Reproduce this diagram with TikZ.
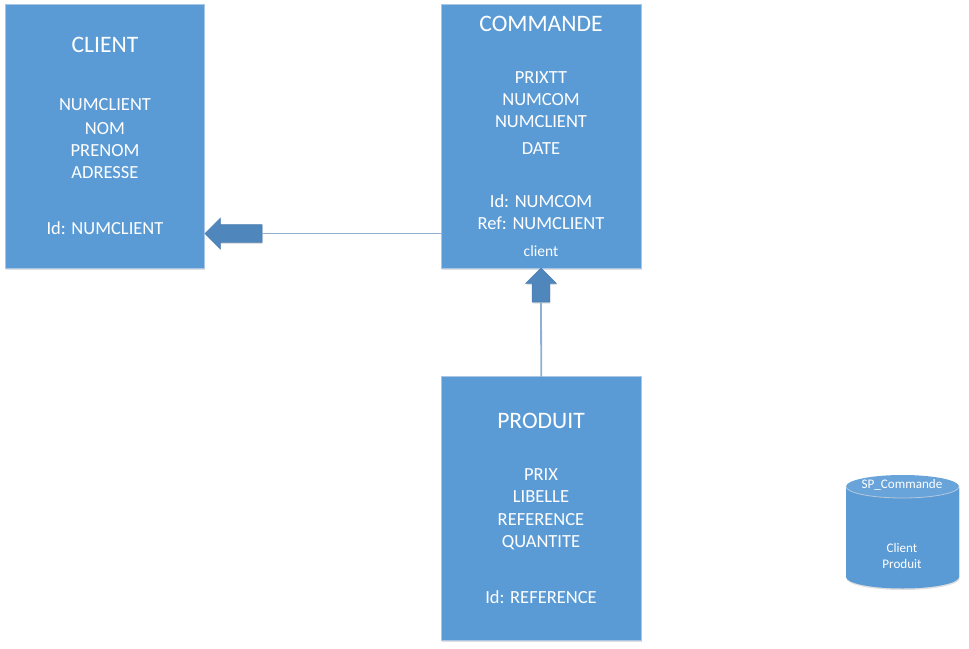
\documentclass[tikz,border=0pt]{standalone}
\usepackage{fontspec}
\setmainfont{Carlito}
\usetikzlibrary{shapes.arrows,shadows}
\definecolor{boxblue}{HTML}{5B9BD5}
\definecolor{boxedge}{HTML}{A9C6E4}
\definecolor{linkblue}{HTML}{8FB0D0}
\definecolor{arrowblue}{HTML}{4F86BC}
\definecolor{arrowedge}{HTML}{4A7FB3}
\definecolor{cylhead}{HTML}{68A3D9}
\definecolor{cylrim}{HTML}{B4C8DC}
\tikzset{
  softshadow/.style={general shadow={shadow xshift=0.6pt,shadow yshift=-1.6pt,fill=black!45,opacity=.28}},
  entity/.style={rectangle,draw=boxedge,line width=.8pt,fill=boxblue,inner sep=0pt,outer sep=0pt,softshadow},
  lbl/.style={text=white,inner sep=0pt,anchor=center,yshift=-3.5pt,font=\fontsize{18.5}{18.5}\selectfont,text height=0.63em,text depth=0pt},
  ttl/.style={lbl,yshift=-1.8pt,font=\fontsize{23.6}{23.6}\selectfont},
  small/.style={lbl,yshift=1pt,font=\fontsize{15.5}{15.5}\selectfont},
  tiny/.style={lbl,yshift=2.4pt,font=\fontsize{13.1}{13.1}\selectfont},
  link/.style={draw=linkblue,line width=1.8pt},
  block/.style={single arrow,draw=arrowedge,line width=.6pt,fill=arrowblue,inner sep=0pt,outer sep=0pt,
    minimum height=57pt,minimum width=30pt,single arrow head extend=6.5pt,single arrow tip angle=90,
    single arrow head indent=0pt,softshadow}
}
\begin{document}
\begin{tikzpicture}[x=1pt,y=-1pt]
\useasboundingbox (0,0) rectangle (969,648);
\node[entity,minimum width=199.5pt,minimum height=263.5pt,anchor=north west] (client) at (5,4.5) {};
\node[entity,minimum width=199.5pt,minimum height=263.5pt,anchor=north west] (commande) at (441.5,4.5) {};
\node[entity,minimum width=199.5pt,minimum height=263.5pt,anchor=north west] (produit) at (441.5,376.5) {};
% block arrows
\node[block,shape border rotate=180,anchor=tip] (arrowL) at (205,233.5) {\phantom{\rule{17pt}{17pt}}};
\node[block,minimum height=34pt,shape border rotate=90,anchor=tip] (arrowU) at (541,268) {\phantom{\rule{17pt}{17pt}}};
\draw[link] (arrowL.tail -| commande.west) -- (arrowL.tail);
\draw[link] (produit.north) -- (arrowU.tail);
% client
\node[ttl] (c0) at (105,44) {CLIENT};
\node[lbl] (c1) at (105,104) {NUMCLIENT};
\node[lbl] (c2) at (105,128) {NOM};
\node[lbl] (c3) at (105,150) {PRENOM};
\node[lbl] (c4) at (105,172) {ADRESSE};
\node[lbl] (c5) at (105,228) {Id: NUMCLIENT};
% commande
\node[ttl] (m0) at (541,23) {COMMANDE};
\node[lbl] (m1) at (541,77) {PRIXTT};
\node[lbl] (m2) at (541,99) {NUMCOM};
\node[lbl] (m3) at (541,121) {NUMCLIENT};
\node[lbl] (m4) at (541,148) {DATE};
\node[lbl] (m5) at (541,201) {Id: NUMCOM};
\node[lbl] (m6) at (541,223) {Ref: NUMCLIENT};
\node[small] (m7) at (541,251) {client};
% produit
\node[ttl] (p0) at (541,420) {PRODUIT};
\node[lbl] (p1) at (541,474) {PRIX};
\node[lbl] (p2) at (541,496) {LIBELLE};
\node[lbl] (p3) at (541,519) {REFERENCE};
\node[lbl] (p4) at (541,541) {QUANTITE};
\node[lbl] (p5) at (541,597) {Id: REFERENCE};
% cylinder
\fill[black!45,opacity=.28] (846.5,488) -- (846.5,578.5) arc[start angle=180,end angle=0,x radius=56.5,y radius=11.5] -- (959.5,488) -- cycle;
\path[fill=boxblue] (846,486.5) -- (846,577) arc[start angle=180,end angle=0,x radius=56.5,y radius=11.5] -- (959,486.5) -- cycle;
\path[fill=cylhead] (902.5,486.5) ellipse[x radius=56.5,y radius=11.5];
\draw[cylrim,line width=.8pt] (846,486.5) arc[start angle=180,end angle=0,x radius=56.5,y radius=11.5];
\node[tiny] (s0) at (902,484) {SP\_Commande};
\node[tiny] (s1) at (902,548) {Client};
\node[tiny] (s2) at (902,564) {Produit};
\end{tikzpicture}
\end{document}
